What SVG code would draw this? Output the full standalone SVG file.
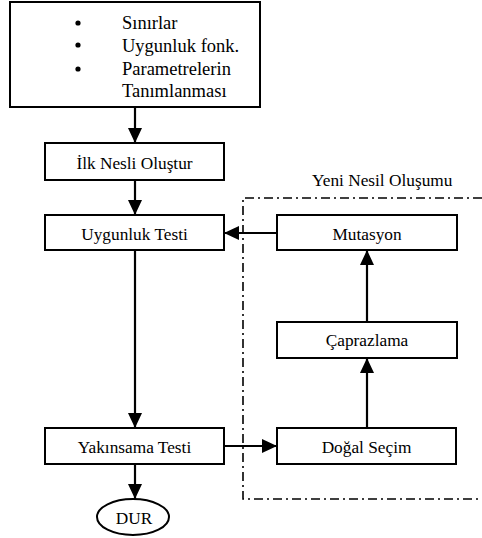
<svg xmlns="http://www.w3.org/2000/svg" width="482" height="538" viewBox="0 0 482 538">
<defs>
<style>
.box{fill:#fff;stroke:#000;stroke-width:2}
.t{font-size:17.3px;fill:#000}
.tb{font-size:18.5px;fill:#000}
.c{text-anchor:middle}
.ln{stroke:#000;stroke-width:2.2;fill:none}
.dd{stroke:#000;stroke-width:1.6;fill:none;stroke-dasharray:9 4 2 4}
</style>
<marker id="ah" markerWidth="16" markerHeight="16" refX="15" refY="8" orient="auto" markerUnits="userSpaceOnUse">
<path d="M0,1 L15,8 L0,15 Z" fill="#000"/>
</marker>
</defs>
<rect width="482" height="538" fill="#fff"/>
<g font-family="'Liberation Serif', 'Times New Roman', serif">
<g id="group-yeni">
<path class="dd" d="M482,198 H243 V499 H482"/>
<text class="t" x="312" y="186">Yeni Nesil Oluşumu</text>
</g>
<g id="connectors">
<line class="ln" x1="135" y1="107" x2="135" y2="143" marker-end="url(#ah)"/>
<line class="ln" x1="135" y1="180" x2="135" y2="215" marker-end="url(#ah)"/>
<line class="ln" x1="135" y1="250" x2="135" y2="428" marker-end="url(#ah)"/>
<line class="ln" x1="135" y1="464" x2="135" y2="499" marker-end="url(#ah)"/>
<line class="ln" x1="224" y1="446" x2="277" y2="446" marker-end="url(#ah)"/>
<line class="ln" x1="367" y1="428" x2="367" y2="358" marker-end="url(#ah)"/>
<line class="ln" x1="367" y1="322" x2="367" y2="250" marker-end="url(#ah)"/>
<line class="ln" x1="277" y1="233" x2="224" y2="233" marker-end="url(#ah)"/>
</g>
<g id="tanimlar">
<rect class="box" x="10" y="2" width="250" height="105"/>
<circle cx="78" cy="23" r="2.6"/>
<circle cx="78" cy="45" r="2.6"/>
<circle cx="78" cy="69" r="2.6"/>
<text class="tb" x="122" y="28.5">Sınırlar</text>
<text class="tb" x="122" y="51.5">Uygunluk fonk.</text>
<text class="tb" x="122" y="74.5">Parametrelerin</text>
<text class="tb" x="122" y="96.5">Tanımlanması</text>
</g>
<g id="ilk-nesil">
<rect class="box" x="45" y="143" width="179" height="37"/>
<text class="t c" x="134.5" y="168.5">İlk Nesli Oluştur</text>
</g>
<g id="uygunluk">
<rect class="box" x="45" y="215" width="179" height="35"/>
<text class="t c" x="134.5" y="239.5">Uygunluk Testi</text>
</g>
<g id="yakinsama">
<rect class="box" x="45" y="428" width="179" height="36"/>
<text class="t c" x="134.5" y="452.5">Yakınsama Testi</text>
</g>
<g id="dur">
<ellipse class="box" cx="133" cy="517" rx="36" ry="18"/>
<text class="t c" x="134" y="524">DUR</text>
</g>
<g id="mutasyon">
<rect class="box" x="277" y="215" width="180" height="35"/>
<text class="t c" x="367" y="239.5">Mutasyon</text>
</g>
<g id="caprazlama">
<rect class="box" x="277" y="322" width="180" height="36"/>
<text class="t c" x="367" y="346">Çaprazlama</text>
</g>
<g id="dogal-secim">
<rect class="box" x="277" y="428" width="179" height="36"/>
<text class="t c" x="366.5" y="452.5">Doğal Seçim</text>
</g>
</g>
</svg>
